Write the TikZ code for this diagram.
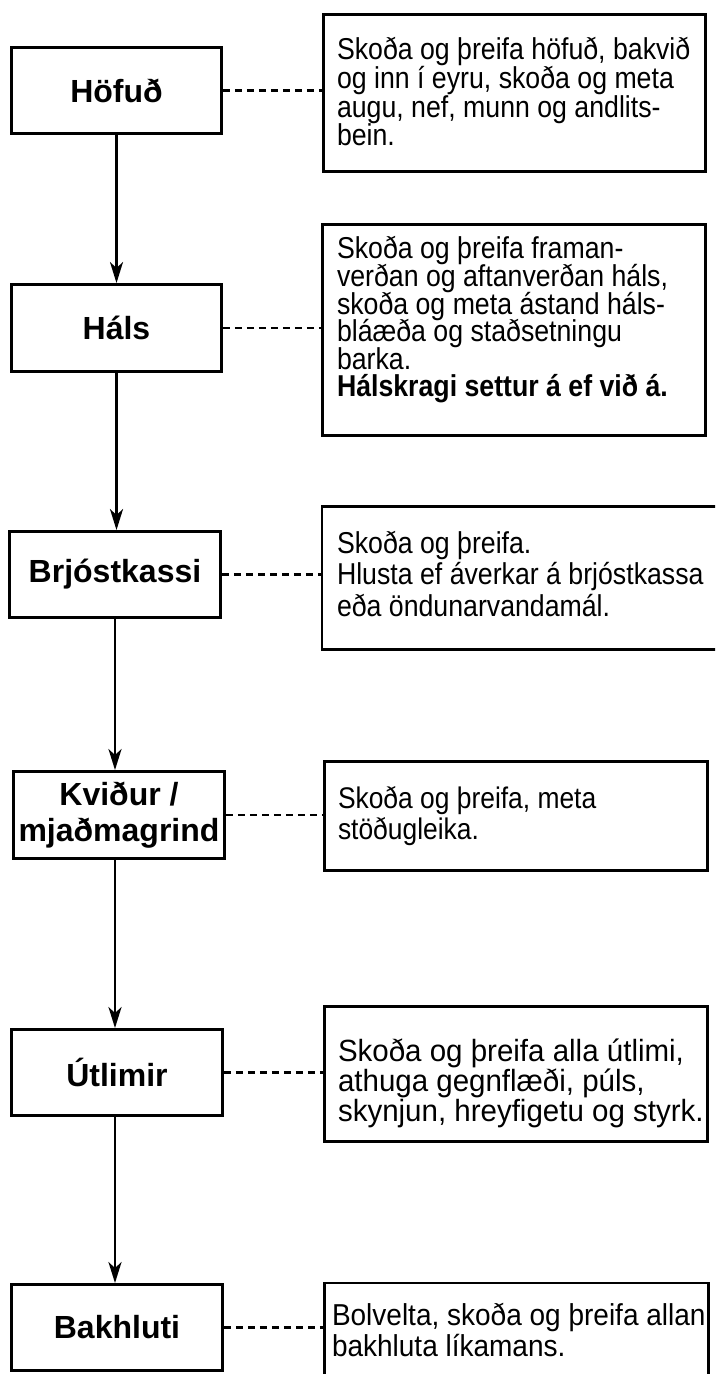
\documentclass[tikz,border=0pt]{standalone}
\usepackage{fontspec}
\setmainfont{Liberation Sans}
\usetikzlibrary{arrows.meta}

% stack of lines with a fixed baseline distance; baseline = first line,
% glyphs stretched vertically by the factor #1
\newcommand\notelines[3]{\scalebox{1}[#1]{\vtop{\baselineskip=#2\lineskiplimit=-1000pt\relax #3}}}

\tikzset{
  stage/.style={draw, line width=2.9bp, inner sep=0pt, align=center,
    font=\fontsize{32bp}{36bp}\selectfont\bfseries},
  note/.style={draw, line width=2.9bp, inner sep=0pt},
  notetext/.style={anchor=base west, inner sep=0pt, outer sep=0pt},
  link/.style={line width=2.2bp, dash pattern=on 7.5bp off 4.5bp},
  flow/.style={line width=2.6bp, -{Stealth[length=21bp,width=13bp,inset=6bp]}},
}

\begin{document}
\begin{tikzpicture}[x=1bp, y=-1bp]
\useasboundingbox (0,0) rectangle (715,1374);
\clip (0,0) rectangle (715,1374);

% examination stages
\node[stage, minimum width=210bp, minimum height=86bp] (s1) at (116.5,90.5) {Höfuð};
\node[stage, minimum width=210bp, minimum height=87bp] (s2) at (116.5,328) {Háls};
\node[stage, minimum width=211bp, minimum height=86bp] (s3) at (115,574.5) {Brjóstkassi};
\node[stage, minimum width=211bp, minimum height=87bp] (s4) at (119,815) {Kviður /\\mjaðmagrind};
\node[stage, minimum width=211bp, minimum height=86bp] (s5) at (117,1072.5) {Útlimir};
\node[stage, minimum width=211bp, minimum height=86bp] (s6) at (117,1327.5) {Bakhluti};

% description boxes
\node[note, minimum width=382bp, minimum height=157bp] (n1) at (514.5,93) {};
\node[note, minimum width=383bp, minimum height=211bp] (n2) at (514,330) {};
\node[note, minimum width=402bp, minimum height=143bp] (n3) at (523,578) {};
\node[note, minimum width=383bp, minimum height=109bp] (n4) at (516,816) {};
\node[note, minimum width=383bp, minimum height=135bp] (n5) at (516,1074) {};
\node[note, minimum width=384bp, minimum height=106bp] (n6) at (516.5,1336) {};

% description texts
\node[notetext, font=\fontsize{26.7bp}{28bp}\selectfont] (t1) at (337,60)
  {\notelines{1.13}{25.3bp}{\hbox{Skoða og þreifa höfuð, bakvið}\hbox{og inn í eyru, skoða og meta}\hbox{augu, nef, munn og andlits-}\hbox{bein.}}};
\node[notetext, font=\fontsize{26.7bp}{28bp}\selectfont] (t2) at (337,259)
  {\notelines{1.13}{24.4bp}{\hbox{Skoða og þreifa framan-}\hbox{verðan og aftanverðan háls,}\hbox{skoða og meta ástand háls-}\hbox{bláæða og staðsetningu}\hbox{barka.}\hbox{\bfseries Hálskragi settur á ef við á.}}};
\node[notetext, font=\fontsize{26.7bp}{28bp}\selectfont] (t3) at (337,553)
  {\notelines{1.13}{28.05bp}{\hbox{Skoða og þreifa.}\hbox{Hlusta ef áverkar á brjóstkassa}\hbox{eða öndunarvandamál.}}};
\node[notetext, font=\fontsize{26.4bp}{28bp}\selectfont] (t4) at (338,808)
  {\notelines{1.13}{28.3bp}{\hbox{Skoða og þreifa, meta}\hbox{stöðugleika.}}};
\node[notetext, font=\fontsize{29.5bp}{30bp}\selectfont] (t5) at (338,1061)
  {\notelines{1.04}{29.3bp}{\hbox{Skoða og þreifa alla útlimi,}\hbox{athuga gegnflæði, púls,}\hbox{skynjun, hreyfigetu og styrk.}}};
\node[notetext, font=\fontsize{28bp}{30bp}\selectfont] (t6) at (332,1325)
  {\notelines{1.08}{29.2bp}{\hbox{Bolvelta, skoða og þreifa allan}\hbox{bakhluta líkamans.}}};

% dashed links from stages to their descriptions
\foreach \i in {1,...,6}
  \draw[link] (s\i.east) -- (s\i.east -| n\i.west);

% flow between stages
\draw[flow] (s1.south) -- (s1.south |- s2.north);
\draw[flow] (s2.south) -- (s2.south |- s3.north);
\draw[flow] (s3.south) -- (s3.south |- s4.north);
\draw[flow] (s4.south -| s3.south) -- (s3.south |- s5.north);
\draw[flow] (s5.south -| s3.south) -- (s3.south |- s6.north);
\end{tikzpicture}
\end{document}
